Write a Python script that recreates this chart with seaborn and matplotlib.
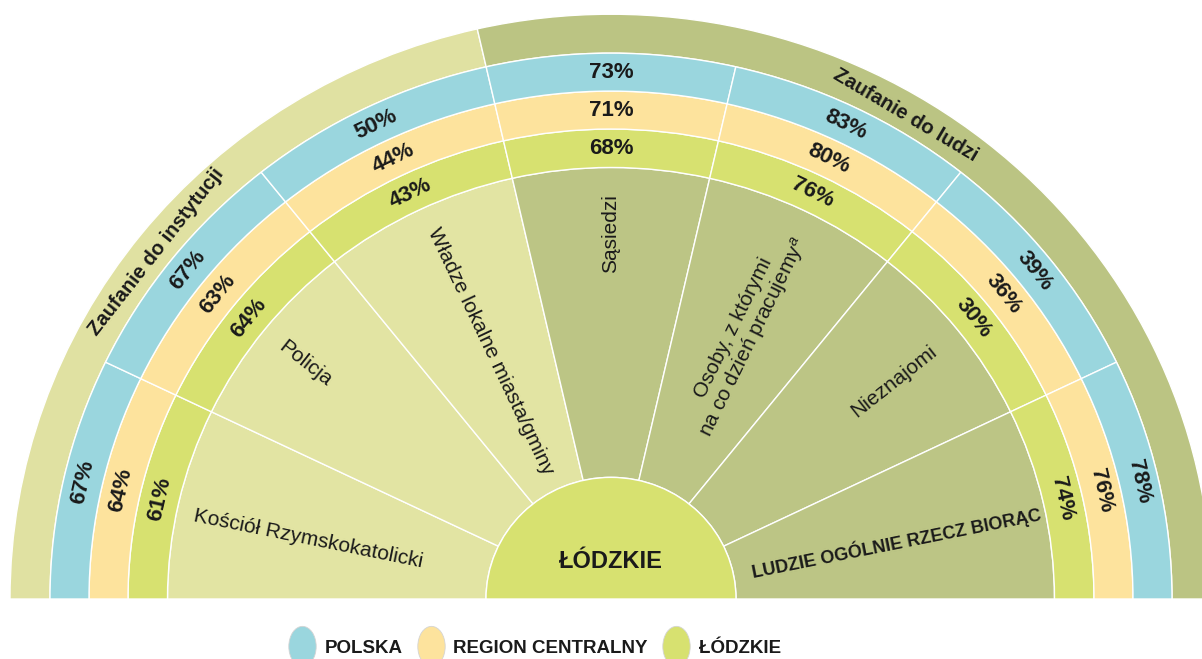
import numpy as np
import matplotlib
matplotlib.use('Agg')
import matplotlib.pyplot as plt
import seaborn as sns
from matplotlib.patches import Wedge
from matplotlib.lines import Line2D
from matplotlib.path import Path
from matplotlib.transforms import Affine2D
from matplotlib.font_manager import FontProperties

sns.set_theme(style='white')
plt.rcParams['font.family'] = ['Liberation Sans', 'DejaVu Sans']
plt.rcParams['mathtext.fontset'] = 'custom'
plt.rcParams['mathtext.it'] = 'Liberation Sans:italic'
plt.rcParams['mathtext.rm'] = 'Liberation Sans'

# data
categories = ['Kościół Rzymskokatolicki', 'Policja',
              'Władze lokalne miasta/gminy', 'Sąsiedzi',
              'Osoby, z którymi\nna co dzień pracujemy$^{a}$',
              'Nieznajomi', 'LUDZIE OGÓLNIE RZECZ BIORĄC']
groups = ['inst', 'inst', 'inst', 'ludzie', 'ludzie', 'ludzie', 'ludzie']
polska = [67, 67, 50, 73, 83, 39, 78]
region = [64, 63, 44, 71, 80, 36, 76]
lodzkie = [61, 64, 43, 68, 76, 30, 74]
series_names = ['POLSKA', 'REGION CENTRALNY', 'ŁÓDZKIE']
group_titles = {'inst': 'Zaufanie do instytucji', 'ludzie': 'Zaufanie do ludzi'}
center_label = 'ŁÓDZKIE'

# colours
c_polska = '#9ad6de'
c_region = '#fde39d'
c_lodz = '#d7e170'
c_inner = {'inst': '#e2e4a3', 'ludzie': '#bcc585'}
c_outer = {'inst': '#e0e1a2', 'ludzie': '#bbc483'}
txt = '#1a1a1a'

# layout (pixel-like units, y squashed a little as in the reference)
SY = 0.973
CX, BY = 611, 599
R0, R1, R2, R3, R4, R5 = 125, 443.5, 483, 522, 561, 601
label_r = [309, 390, 281, 376, 304, 361, 291]
label_dth = [1.4, 0.3, -0.4, 0, -0.4, -0.2, -1.5]

fig = plt.figure(figsize=(12.02, 6.59), dpi=100)
ax = fig.add_axes([0, 0, 1, 1])
ax.set_xlim(-CX, 1202 - CX)
ax.set_ylim(-(659 - BY) / SY, BY / SY)
ax.axis('off')

n = len(categories)
step = 180.0 / n
n_inst = groups.count('inst')
split = 180 - n_inst * step

# outer group bands
ax.add_patch(Wedge((0, 0), R5, split, 180, width=R5 - R4,
                   facecolor=c_outer['inst'], edgecolor='white', lw=1.0))
ax.add_patch(Wedge((0, 0), R5, 0, split, width=R5 - R4,
                   facecolor=c_outer['ludzie'], edgecolor='white', lw=1.0))

rings = [(R1, R2, c_lodz, lodzkie), (R2, R3, c_region, region),
         (R3, R4, c_polska, polska)]

for i in range(n):
    t2 = 180 - i * step
    t1 = t2 - step
    mid = (t1 + t2) / 2
    ax.add_patch(Wedge((0, 0), R1, t1, t2, width=R1 - R0,
                       facecolor=c_inner[groups[i]], edgecolor='white', lw=1.0))
    for r_in, r_out, col, vals in rings:
        ax.add_patch(Wedge((0, 0), r_out, t1, t2, width=r_out - r_in,
                           facecolor=col, edgecolor='white', lw=1.0))
        rm = (r_in + r_out) / 2
        a = np.deg2rad(mid)
        ax.text(rm * np.cos(a), rm * np.sin(a), f'{vals[i]}%',
                rotation=mid - 90, rotation_mode='anchor',
                ha='center', va='center', fontsize=16, fontweight='bold',
                color=txt)
    # category label
    th = mid + label_dth[i]
    a = np.deg2rad(th)
    rot = th - 180 if th > 91 else th
    bold = categories[i].isupper()
    ax.text(label_r[i] * np.cos(a), label_r[i] * np.sin(a), categories[i],
            rotation=rot, rotation_mode='anchor', ha='center', va='center',
            multialignment='center', linespacing=1.05,
            fontsize=13 if bold else 15,
            fontweight='bold' if bold else 'normal', color=txt)

# centre
ax.add_patch(Wedge((0, 0), R0, 0, 180, facecolor=c_lodz,
                   edgecolor='white', lw=1.0))
ax.text(0, 39, center_label, ha='center', va='center', fontsize=17,
        fontweight='bold', color=txt)

# group titles on the outer band
for key, th in [('inst', 141.9), ('ludzie', 59.4)]:
    a = np.deg2rad(th)
    rr = 578
    ax.text(rr * np.cos(a), rr * np.sin(a), group_titles[key],
            rotation=th - 90, rotation_mode='anchor', ha='center',
            va='center', fontsize=14.5, fontweight='bold', color=txt)

# legend
ell = Path.unit_circle().transformed(Affine2D().scale(0.68, 1.0))
handles = [Line2D([], [], marker=ell, linestyle='none', markersize=29,
                  markerfacecolor=c, markeredgecolor='#d4d4d4',
                  markeredgewidth=0.6)
           for c in [c_polska, c_region, c_lodz]]
fp = FontProperties(family='Liberation Sans', weight='bold', size=13.5)
fig.legend(handles, series_names, loc='center',
           bbox_to_anchor=(0.4447, 0.0167), ncol=3, frameon=False,
           handlelength=1.5, handletextpad=0.45, columnspacing=0.75,
           prop=fp, labelcolor=txt, borderaxespad=0, borderpad=0)

fig.savefig('out.png', dpi=100)
